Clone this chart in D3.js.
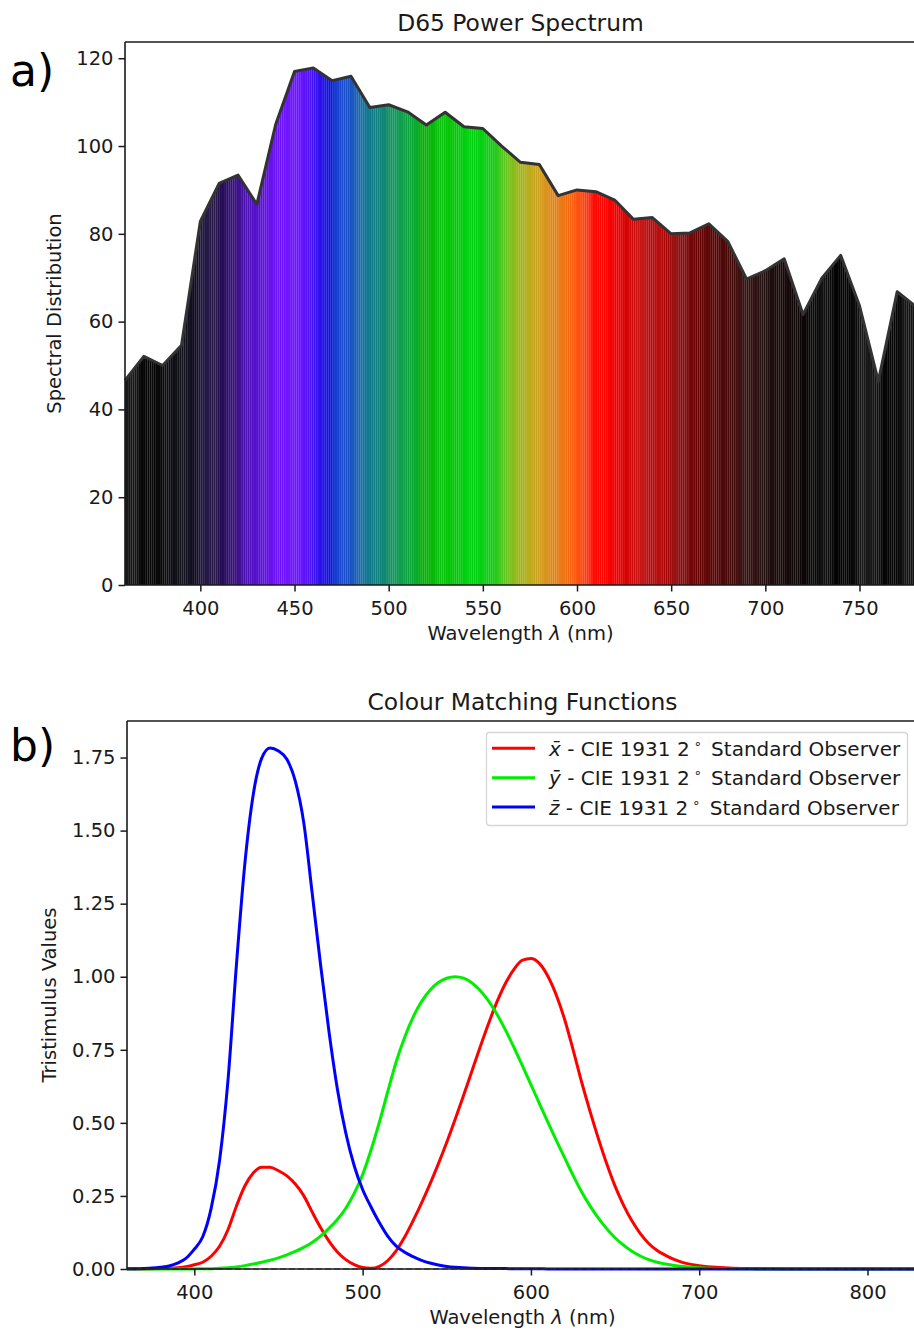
<!DOCTYPE html>
<html>
<head>
<meta charset="utf-8">
<script src="https://cdn.jsdelivr.net/npm/d3@7"></script>
<style>
  html, body { margin: 0; padding: 0; background: #fff; }
  svg { display: block; font-family: "DejaVu Sans", sans-serif; }
</style>
</head>
<body>
<svg id="fig" width="914" height="1332"></svg>
<script>
// ---------- D65 standard illuminant, relative spectral power ----------
const d65Wavelengths = [360,370,380,390,400,410,420,430,440,450,460,470,480,490,500,510,520,530,540,550,560,570,580,590,600,610,620,630,640,650,660,670,680,690,700,710,720,730,740,750,760,770,780];
const d65Power = [46.6,52.1,50.0,54.6,82.8,91.5,93.4,86.7,104.9,117.0,117.8,114.9,115.9,108.8,109.4,107.8,104.8,107.7,104.4,104.0,100.0,96.3,95.8,88.7,90.0,89.6,87.7,83.3,83.7,80.0,80.2,82.3,78.3,69.7,71.6,74.3,61.6,69.9,75.1,63.6,46.4,66.8,63.4];
const d65XTicks = [400,450,500,550,600,650,700,750];
const d65YTicks = [0,20,40,60,80,100,120];

// ---------- CIE 1931 2° standard observer, 5 nm steps ----------
const cmfWavelengths = [360,365,370,375,380,385,390,395,400,405,410,415,420,425,430,435,440,445,450,455,460,465,470,475,480,485,490,495,500,505,510,515,520,525,530,535,540,545,550,555,560,565,570,575,580,585,590,595,600,605,610,615,620,625,630,635,640,645,650,655,660,665,670,675,680,685,690,695,700,705,710,715,720,725,730,735,740,745,750,755,760,765,770,775,780,785,790,795,800,805,810,815,820,825,830];
const xBar = [0.000130,0.000232,0.000415,0.000742,0.001368,0.002236,0.004243,0.007650,0.014310,0.023190,0.043510,0.077630,0.134380,0.214770,0.283900,0.328500,0.348280,0.348060,0.336200,0.318700,0.290800,0.251100,0.195360,0.142100,0.095640,0.057950,0.032010,0.014700,0.004900,0.002400,0.009300,0.029100,0.063270,0.109600,0.165500,0.225750,0.290400,0.359700,0.433450,0.512050,0.594500,0.678400,0.762100,0.842500,0.916300,0.978600,1.026300,1.056700,1.062200,1.045600,1.002600,0.938400,0.854450,0.751400,0.642400,0.541900,0.447900,0.360800,0.283500,0.218700,0.164900,0.121200,0.087400,0.063600,0.046770,0.032900,0.022700,0.015840,0.011359,0.008111,0.005790,0.004109,0.002899,0.002049,0.001440,0.001000,0.000690,0.000476,0.000332,0.000235,0.000166,0.000117,0.000083,0.000059,0.000042,0.000030,0.000021,0.000015,0.000011,0.0000075,0.0000053,0.0000037,0.0000026,0.0000019,0.0000013];
const yBar = [0.0000039,0.0000070,0.000012,0.000022,0.000039,0.000064,0.000120,0.000217,0.000396,0.000640,0.001210,0.002180,0.004000,0.007300,0.011600,0.016840,0.023000,0.029800,0.038000,0.048000,0.060000,0.073900,0.090980,0.112600,0.139020,0.169300,0.208020,0.258600,0.323000,0.407300,0.503000,0.608200,0.710000,0.793200,0.862000,0.914850,0.954000,0.980300,0.994950,1.000000,0.995000,0.978600,0.952000,0.915400,0.870000,0.816300,0.757000,0.694900,0.631000,0.566800,0.503000,0.441200,0.381000,0.321000,0.265000,0.217000,0.175000,0.138200,0.107000,0.081600,0.061000,0.044580,0.032000,0.023200,0.017000,0.011920,0.008210,0.005723,0.004102,0.002929,0.002091,0.001484,0.001047,0.000740,0.000520,0.000361,0.000249,0.000172,0.000120,0.000085,0.000060,0.000042,0.000030,0.000021,0.000015,0.000011,0.0000075,0.0000053,0.0000037,0.0000027,0.0000019,0.0000013,0.0000009,0.0000007,0.0000005];
const zBar = [0.000606,0.001086,0.001946,0.003486,0.006450,0.010550,0.020050,0.036210,0.067850,0.110200,0.207400,0.371300,0.645600,1.039050,1.385600,1.622960,1.747060,1.782600,1.772110,1.744100,1.669200,1.528100,1.287640,1.041900,0.812950,0.616200,0.465180,0.353300,0.272000,0.212300,0.158200,0.111700,0.078250,0.057250,0.042160,0.029840,0.020300,0.013400,0.008750,0.005750,0.003900,0.002750,0.002100,0.001800,0.001650,0.001400,0.001100,0.001000,0.000800,0.000600,0.000340,0.000240,0.000190,0.000100,0.000050,0.000030,0.000020,0.000010,0,0,0,0,0,0,0,0,0,0,0,0,0,0,0,0,0,0,0,0,0,0,0,0,0,0,0,0,0,0,0,0,0,0,0,0,0];
const cmfXTicks = [400,500,600,700,800];
const cmfYTicks = [0,0.25,0.5,0.75,1.0,1.25,1.5,1.75];
const cmfLabels = ["x̄", "ȳ", "z̄"];
const cmfLabelSuffix = " - CIE 1931 2";

// ---------- wavelength → display colour used for the spectrum fill ----------
const spectrumStops = [360,366,368,379,381,389,391,398,401,408,410,414,420,424,431,440,446,453,456,460,465,469,471,476,482,486,490,496,500,504,508,514,518,523,528,535,540,550,556,560,564,568,574,578,583,588,594,598,603,606,609,618,622,625,630,635,639,644,648,652,658,663,670,677,683,688,695,700,706,712,720,726,732,737,748,751,760,763,771,773,780];
const spectrumColours = ["#1a1a1a","#161616","#060606","#080808","#0e0e12","#101018","#13131f","#100c22","#241a44","#28184a","#1e0a4c","#2e0f68","#3c1288","#4a10b0","#5810d4","#6c12f4","#7014ff","#6a14ff","#5a12fa","#4010f2","#2212e8","#0a10e0","#1438d4","#1a4ccc","#1a5cbc","#1670a0","#127a8c","#0f8276","#109064","#109a58","#0f9e48","#0aaa30","#02b204","#08b808","#0cc410","#00c800","#00d010","#04d010","#18cc14","#48c820","#78c020","#98b814","#b4ae18","#c8a41e","#d89620","#e48418","#ee7010","#fa5c10","#ff4812","#ff3010","#ff0a04","#f80000","#ee0000","#dc0000","#cc0a0a","#c41818","#b40c0c","#b80e0e","#a20202","#951414","#800c0c","#6a0202","#5c0606","#500808","#420a0a","#3a1414","#301212","#221010","#1c0c0c","#140808","#0c0606","#0a0a0a","#121212","#020202","#080808","#1a1a1a","#121212","#050505","#060606","#161616","#141414"];

const svg = d3.select("#fig");
const INK = "#1a1a1a";
const TICK_FONT = 19.5;
const LEGEND_FONT = 20;

function drawAxes(g, x, y, box, xTicks, yTicks, yFormat) {
  const xAxis = d3.axisBottom(x).tickValues(xTicks).tickSize(6.5).tickPadding(5).tickFormat(d3.format("d"));
  const yAxis = d3.axisLeft(y).tickValues(yTicks).tickSize(6.5).tickPadding(5).tickFormat(yFormat);
  const gx = g.append("g").attr("transform", `translate(0,${box.bottom})`).call(xAxis);
  const gy = g.append("g").attr("transform", `translate(${box.left},0)`).call(yAxis);
  [gx, gy].forEach(a => {
    a.select(".domain").remove();
    a.selectAll(".tick line").attr("stroke", INK).attr("stroke-width", 1.5);
    a.selectAll(".tick text").attr("fill", INK).attr("font-size", TICK_FONT)
      .attr("font-family", "DejaVu Sans");
  });
  gx.selectAll(".tick text").attr("dy", "0.95em");
  // spines: left, bottom, top (right edge falls outside the canvas)
  g.append("line").attr("x1", box.left).attr("x2", box.left).attr("y1", box.top).attr("y2", box.bottom)
    .attr("stroke", INK).attr("stroke-width", 1.6);
  g.append("line").attr("x1", box.left).attr("x2", box.right).attr("y1", box.bottom).attr("y2", box.bottom)
    .attr("stroke", INK).attr("stroke-width", 1.6);
  g.append("line").attr("x1", box.left).attr("x2", box.right).attr("y1", box.top).attr("y2", box.top)
    .attr("stroke", INK).attr("stroke-width", 1.6);
}

function labels(g, box, title, yLabel, yLabelX, panelTag, tagBaseline) {
  const cx = (box.left + box.right) / 2;
  const cy = (box.top + box.bottom) / 2;
  g.append("text").attr("x", cx).attr("y", box.top - 11).attr("text-anchor", "middle")
    .attr("font-size", 23.4).attr("fill", INK).text(title);
  const xl = g.append("text").attr("x", cx).attr("y", box.bottom + 55).attr("text-anchor", "middle")
    .attr("font-size", TICK_FONT).attr("fill", INK);
  xl.append("tspan").text("Wavelength ");
  xl.append("tspan").attr("font-style", "italic").text("λ");
  xl.append("tspan").text(" (nm)");
  g.append("text").attr("transform", `translate(${yLabelX},${cy}) rotate(-90)`).attr("text-anchor", "middle")
    .attr("font-size", TICK_FONT).attr("fill", INK).text(yLabel);
  g.append("text").attr("x", 10).attr("y", tagBaseline).attr("font-size", 44).attr("fill", "#000").text(panelTag);
}

// ================= Panel a: D65 power spectrum =================
{
  const box = { left: 125, right: 916, top: 42, bottom: 585 };
  const x = d3.scaleLinear().domain([360, 780]).range([box.left, box.right]);
  const y = d3.scaleLinear().domain([0, 123.7]).range([box.bottom, box.top]);
  const colour = d3.scaleLinear().domain(spectrumStops).range(spectrumColours).interpolate(d3.interpolateRgb);
  const pts = d65Wavelengths.map((w, i) => [w, d65Power[i]]);
  const g = svg.append("g");

  const defs = svg.append("defs");
  const area = d3.area().x(d => x(d[0])).y0(y(0)).y1(d => y(d[1]));
  defs.append("clipPath").attr("id", "d65clip").append("path").attr("d", area(pts));

  // 1 nm coloured strips, clipped to the area under the spectrum
  const strips = d3.range(360, 780, 1);
  g.append("g").attr("clip-path", "url(#d65clip)")
    .selectAll("rect").data(strips).join("rect")
    .attr("x", d => x(d)).attr("width", d => x(d + 1) - x(d) + 0.12)
    .attr("y", box.top).attr("height", box.bottom - box.top)
    .attr("fill", d => colour(d + 0.5));

  g.append("path").datum(pts)
    .attr("d", d3.line().x(d => x(d[0])).y(d => y(d[1])))
    .attr("fill", "none").attr("stroke", "#333").attr("stroke-width", 3).attr("stroke-linejoin", "round");

  drawAxes(g, x, y, box, d65XTicks, d65YTicks, d3.format("d"));
  labels(g, box, "D65 Power Spectrum", "Spectral Distribution", 61, "a)", 86);
}

// ================= Panel b: colour matching functions =================
{
  const box = { left: 127, right: 918, top: 721, bottom: 1269 };
  const x = d3.scaleLinear().domain([360, 830]).range([box.left, box.right]);
  const y = d3.scaleLinear().domain([0, 1.875]).range([box.bottom, box.top]);
  const g = svg.append("g");

  const defs = svg.select("defs");
  defs.append("clipPath").attr("id", "cmfclip").append("rect")
    .attr("x", box.left).attr("y", box.top - 2).attr("width", box.right - box.left).attr("height", box.bottom - box.top + 4);

  const plot = g.append("g").attr("clip-path", "url(#cmfclip)");
  const line = d3.line().x(d => x(d[0])).y(d => y(d[1])).curve(d3.curveMonotoneX);
  const seriesList = [
    { name: cmfLabels[0], values: xBar, colour: "#ff0000" },
    { name: cmfLabels[1], values: yBar, colour: "#00ee00" },
    { name: cmfLabels[2], values: zBar, colour: "#0000ff" }
  ];
  seriesList.forEach(s => {
    plot.append("path").datum(cmfWavelengths.map((w, i) => [w, s.values[i]]))
      .attr("d", line).attr("fill", "none").attr("stroke", s.colour).attr("stroke-width", 3);
  });
  // zero reference line
  plot.append("line").attr("x1", box.left).attr("x2", box.right).attr("y1", y(0)).attr("y2", y(0))
    .attr("stroke", "#555").attr("stroke-width", 1.5).attr("stroke-dasharray", "6,3").attr("opacity", 0.8);

  drawAxes(g, x, y, box, cmfXTicks, cmfYTicks, d3.format(".2f"));
  labels(g, box, "Colour Matching Functions", "Tristimulus Values", 56, "b)", 761);

  // legend
  const lg = g.append("g");
  lg.append("rect").attr("x", 486.5).attr("y", 732.5).attr("width", 421).attr("height", 93).attr("rx", 3)
    .attr("fill", "#fff").attr("fill-opacity", 0.8).attr("stroke", "#d6d6d6").attr("stroke-width", 1.3);
  seriesList.forEach((s, i) => {
    const ly = 748.3 + i * 29.4;
    lg.append("line").attr("x1", 492).attr("x2", 535).attr("y1", ly).attr("y2", ly)
      .attr("stroke", s.colour).attr("stroke-width", 3);
    const t = lg.append("text").attr("x", 549).attr("y", ly + 7.5).attr("font-size", LEGEND_FONT).attr("fill", INK);
    t.append("tspan").attr("font-style", "italic").text(s.name);
    t.append("tspan").text(cmfLabelSuffix);
    t.append("tspan").attr("font-size", 13).attr("dy", -8).attr("dx", 4).text("∘");
    t.append("tspan").attr("dy", 8).attr("dx", 3).text(" Standard Observer");
  });
}
</script>
</body>
</html>
